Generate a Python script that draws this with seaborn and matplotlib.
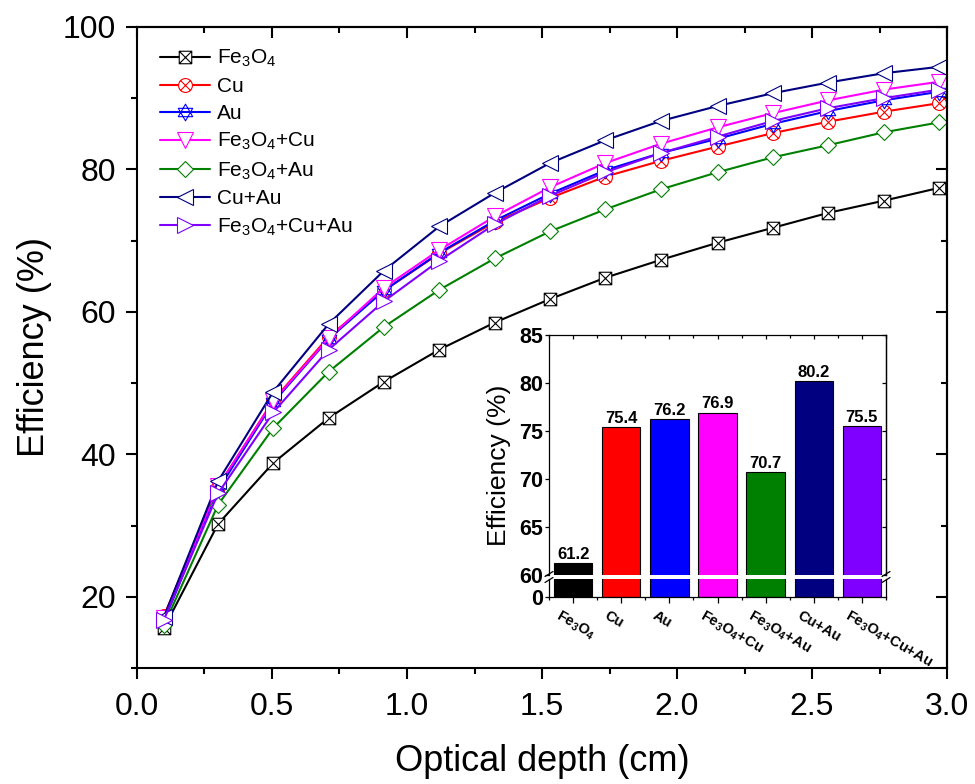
import matplotlib
matplotlib.use("Agg")
import numpy as np
import matplotlib.pyplot as plt
import matplotlib.transforms as mtransforms
from matplotlib.lines import Line2D
from matplotlib.path import Path
from matplotlib.ticker import MultipleLocator, FixedLocator, FormatStrFormatter
import seaborn as sns

# ---- data -------------------------------------------------------------
depth = [0.10, 0.30, 0.505, 0.71, 0.915, 1.12, 1.325, 1.53, 1.735, 1.94, 2.15, 2.355, 2.56, 2.765, 2.97]

eff_fe3o4 = [15.6, 30.2, 38.8, 45.1, 50.2, 54.7, 58.5, 61.8, 64.8, 67.3, 69.7, 71.8, 73.9, 75.6, 77.4]
eff_cu = [17.3, 35.4, 47.6, 56.5, 63.0, 68.2, 72.6, 76.0, 79.0, 81.2, 83.2, 85.1, 86.7, 88.1, 89.3]
eff_au = [16.6, 35.0, 47.3, 56.2, 63.0, 68.3, 72.8, 76.6, 79.9, 82.3, 84.3, 86.4, 88.2, 89.7, 90.9]
eff_fe3o4_cu = [17.0, 35.5, 47.5, 56.3, 63.4, 68.7, 73.4, 77.5, 80.9, 83.6, 85.9, 87.9, 89.7, 91.2, 92.3]
eff_fe3o4_au = [16.0, 32.9, 43.7, 51.6, 57.9, 63.1, 67.5, 71.3, 74.4, 77.2, 79.6, 81.7, 83.4, 85.2, 86.6]
eff_cu_au = [17.2, 36.2, 48.8, 58.3, 65.8, 72.0, 76.7, 80.9, 84.1, 86.8, 88.9, 90.7, 92.2, 93.5, 94.4]
eff_fe3o4_cu_au = [16.8, 34.5, 45.9, 54.7, 61.5, 67.2, 72.3, 76.3, 79.6, 82.3, 84.6, 86.8, 88.6, 90.0, 91.2]

series_labels = ["Fe$_3$O$_4$", "Cu", "Au", "Fe$_3$O$_4$+Cu", "Fe$_3$O$_4$+Au",
                 "Cu+Au", "Fe$_3$O$_4$+Cu+Au"]
series_values = [eff_fe3o4, eff_cu, eff_au, eff_fe3o4_cu, eff_fe3o4_au,
                 eff_cu_au, eff_fe3o4_cu_au]
colors = ["#000000", "#FF0000", "#0000FF", "#FF00FF", "#008000", "#000080", "#8000FF"]

# efficiency at 1.5 cm (inset)
bar_categories = ["Fe3O4", "Cu", "Au", "Fe3O4+Cu", "Fe3O4+Au", "Cu+Au", "Fe3O4+Cu+Au"]
bar_efficiency = [61.2, 75.4, 76.2, 76.9, 70.7, 80.2, 75.5]

# ---- style ------------------------------------------------------------
sns.set_style("ticks")
plt.rcParams.update({
    "font.family": ["Liberation Sans", "DejaVu Sans"],
    "mathtext.fontset": "custom",
    "mathtext.rm": "Liberation Sans",
    "mathtext.bf": "Liberation Sans:bold",
    "mathtext.it": "Liberation Sans:italic",
    "mathtext.default": "regular",
    "axes.linewidth": 1.5,
    "text.color": "black",
    "axes.labelcolor": "black",
    "axes.edgecolor": "black",
    "xtick.color": "black",
    "ytick.color": "black",
})

# custom marker shapes
M, L, C = Path.MOVETO, Path.LINETO, Path.CLOSEPOLY
square_x = Path([(-1, -1), (1, -1), (1, 1), (-1, 1), (-1, -1),
                 (-1, -1), (1, 1), (-1, 1), (1, -1)],
                [M, L, L, L, C, M, L, M, L])
d = 0.7071
circle_x = Path.make_compound_path(
    Path.unit_circle(),
    Path([(-d, -d), (d, d)], [M, L]),
    Path([(-d, d), (d, -d)], [M, L]))
h = 0.866
hexagram = Path([(0, 1), (-h, -0.5), (h, -0.5), (0, 1),
                 (0, -1), (-h, 0.5), (h, 0.5), (0, -1)],
                [M, L, L, C, M, L, L, C])

markers = [square_x, circle_x, hexagram, "v", "D", "<", ">"]
msizes = [9, 10, 12, 11, 8, 11, 11]

fig = plt.figure(figsize=(9.75, 7.84), dpi=100)
ax = fig.add_axes([0.1405, 0.148, 0.8308, 0.8176])

for lab, vals, col, mk, ms in zip(series_labels, series_values, colors, markers, msizes):
    sns.lineplot(x=depth, y=vals, ax=ax, color=col, linewidth=1.5,
                 marker=mk, markersize=ms, markerfacecolor="white",
                 markeredgecolor=col, markeredgewidth=0.8, label=lab)

ax.set_xlim(0, 3.0)
ax.set_ylim(10, 100)
ax.xaxis.set_major_locator(MultipleLocator(0.5))
ax.xaxis.set_minor_locator(MultipleLocator(0.25))
ax.yaxis.set_major_locator(FixedLocator([20, 40, 60, 80, 100]))
ax.yaxis.set_minor_locator(FixedLocator([10, 30, 50, 70, 90]))
ax.xaxis.set_major_formatter(FormatStrFormatter("%.1f"))
ax.tick_params(which="major", direction="out", length=8, width=1.5, labelsize=23)
ax.tick_params(axis="x", which="major", pad=9)
ax.tick_params(axis="y", which="major", pad=7)
ax.tick_params(which="minor", direction="out", length=4, width=1.5)
ax.set_xlabel("Optical depth (cm)", fontsize=26, labelpad=16)
ax.set_ylabel("Efficiency (%)", fontsize=26, labelpad=8)

top = ax.secondary_xaxis("top")
top.xaxis.set_major_locator(MultipleLocator(0.5))
top.xaxis.set_minor_locator(MultipleLocator(0.25))
top.tick_params(which="major", direction="in", length=8, width=1.5, labeltop=False)
top.tick_params(which="minor", direction="in", length=4, width=1.5)
right = ax.secondary_yaxis("right")
right.yaxis.set_major_locator(FixedLocator([20, 40, 60, 80, 100]))
right.yaxis.set_minor_locator(FixedLocator([10, 30, 50, 70, 90]))
right.tick_params(which="major", direction="in", length=8, width=1.5, labelright=False)
right.tick_params(which="minor", direction="in", length=4, width=1.5)

ax.legend(loc="upper left", bbox_to_anchor=(0.01, 0.99), frameon=False, fontsize=15,
          handlelength=2.4, handletextpad=0.35, labelspacing=0.38, borderaxespad=0.3)

# ---- inset with broken y axis -----------------------------------------
x0, w = 549 / 975, 337 / 975
ax_up = fig.add_axes([x0, 1 - 575 / 784, w, (575 - 335) / 784])
ax_lo = fig.add_axes([x0, 1 - 597 / 784, w, (597 - 579) / 784])

for a in (ax_up, ax_lo):
    sns.barplot(x=bar_categories, y=bar_efficiency, hue=bar_categories,
                palette=colors, legend=False, ax=a, saturation=1,
                edgecolor="black", linewidth=0.8, width=0.8)
    a.set_xlim(-0.5, 6.5)
    a.set_xlabel("")
    a.set_ylabel("")
    for s in a.spines.values():
        s.set_linewidth(0.9)
    a.set_xticks(range(7))
    a.xaxis.set_minor_locator(FixedLocator(np.arange(-0.5, 7, 1.0)))

for cont in ax_up.containers:
    ax_up.bar_label(cont, fmt="%.1f", padding=1, fontsize=12, fontweight="bold")

ax_up.set_ylim(60, 85)
ax_up.yaxis.set_major_locator(MultipleLocator(5))
ax_up.spines["bottom"].set_visible(False)
ax_up.tick_params(axis="x", which="both", bottom=False, top=True, direction="in",
                  labelbottom=False)
ax_up.tick_params(axis="x", which="major", length=3, width=0.9)
ax_up.tick_params(axis="x", which="minor", length=2, width=0.9)
ax_up.tick_params(axis="y", direction="out", length=3, width=0.9, labelsize=15.5, pad=1.5)
for t in ax_up.get_yticklabels():
    t.set_fontweight("bold")
sec = ax_up.secondary_yaxis("right")
sec.yaxis.set_major_locator(MultipleLocator(5))
sec.tick_params(direction="in", length=3, width=0.9, labelright=False)
sec.spines["right"].set_linewidth(0.9)

ax_lo.set_ylim(0, 1.9)
ax_lo.set_yticks([0])
ax_lo.spines["top"].set_visible(False)
ax_lo.tick_params(axis="y", direction="out", length=3, width=0.9, labelsize=15.5, pad=1.5)
for t in ax_lo.get_yticklabels():
    t.set_fontweight("bold")
ax_lo.tick_params(axis="x", which="major", direction="out", length=4, width=0.9, pad=4)
ax_lo.tick_params(axis="x", which="minor", direction="out", length=2.5, width=0.9)
ax_lo.set_xticklabels(series_labels, rotation=-30, ha="left", va="top",
                      rotation_mode="anchor", fontsize=10.5, fontweight="bold")
shift = mtransforms.ScaledTranslation(-0.12, 0, fig.dpi_scale_trans)
for t in ax_lo.get_xticklabels():
    t.set_transform(t.get_transform() + shift)

# break marks on both sides of the gap
for xp in (549, 886):
    for yp in (574, 580):
        fig.add_artist(Line2D([(xp - 4) / 975, (xp + 4) / 975],
                              [1 - (yp + 2.5) / 784, 1 - (yp - 2.5) / 784],
                              color="black", lw=0.9))

fig.text(499 / 975, 1 - 465 / 784, "Efficiency (%)", rotation=90,
         ha="center", va="center", fontsize=19)

fig.savefig("out.png", dpi=100)
